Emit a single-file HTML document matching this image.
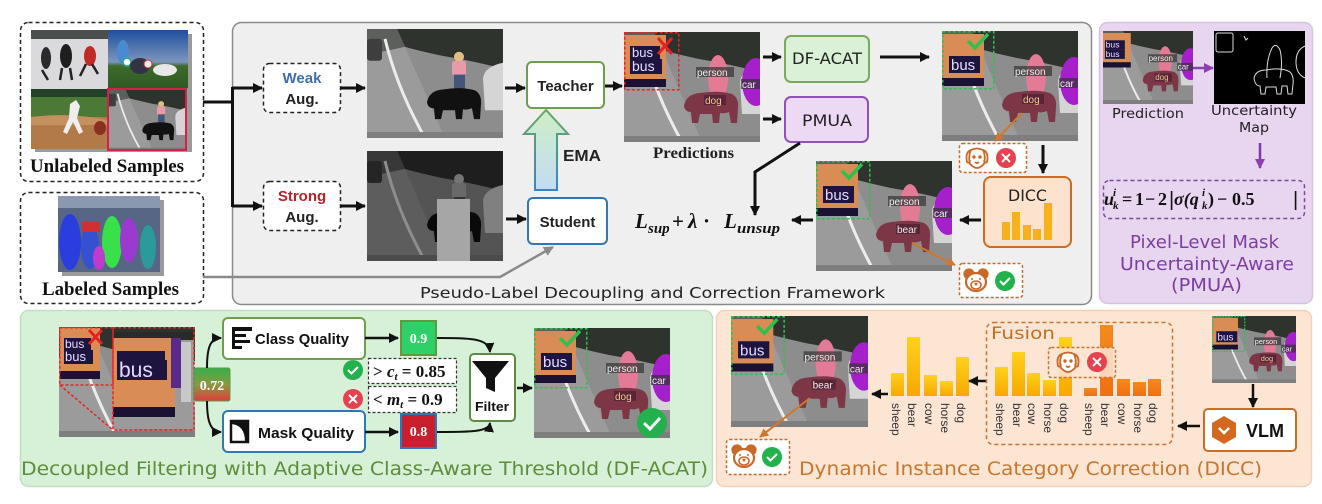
<!DOCTYPE html>
<html><head><meta charset="utf-8"><style>
html,body{margin:0;padding:0;background:#fff;}
svg{display:block;}
.s{font-family:"Liberation Sans",sans-serif;}
.sb{font-family:"Liberation Sans",sans-serif;font-weight:bold;}
.sf{font-family:"Liberation Serif",serif;font-weight:bold;}
.si{font-family:"Liberation Serif",serif;font-weight:bold;font-style:italic;}
.c{font-family:"DejaVu Sans","Liberation Sans",sans-serif;}
</style></head><body>
<svg width="1322" height="504" viewBox="0 0 1322 504" xmlns="http://www.w3.org/2000/svg" xmlns:xlink="http://www.w3.org/1999/xlink">
<defs>
<marker id="ak" viewBox="0 0 10 10" refX="9" refY="5" markerWidth="10" markerHeight="10" markerUnits="userSpaceOnUse" orient="auto"><path d="M0,0L10,5L0,10z" fill="#111"/></marker>
<marker id="ag" viewBox="0 0 10 10" refX="9" refY="5" markerWidth="10" markerHeight="10" markerUnits="userSpaceOnUse" orient="auto"><path d="M0,0L10,5L0,10z" fill="#8a8a8a"/></marker>
<marker id="ao" viewBox="0 0 10 10" refX="9" refY="5" markerWidth="9" markerHeight="9" markerUnits="userSpaceOnUse" orient="auto"><path d="M0,0L10,5L0,10z" fill="#d0772c"/></marker>
<marker id="ap" viewBox="0 0 10 10" refX="9" refY="5" markerWidth="10" markerHeight="10" markerUnits="userSpaceOnUse" orient="auto"><path d="M0,0L10,5L0,10z" fill="#8b3fb0"/></marker>
<filter id="gs"><feColorMatrix type="saturate" values="0"/></filter>
<linearGradient id="sky" x1="0" y1="0" x2="0" y2="1"><stop offset="0" stop-color="#1f4f9e"/><stop offset=".55" stop-color="#7d95bb"/><stop offset=".62" stop-color="#3e6a2c"/><stop offset="1" stop-color="#2f5a22"/></linearGradient>
<linearGradient id="ema" x1="0" y1="0" x2="0" y2="1"><stop offset="0" stop-color="#cdeec8"/><stop offset="1" stop-color="#c4dcf2"/></linearGradient>
<linearGradient id="emas" x1="0" y1="0" x2="0" y2="1"><stop offset="0" stop-color="#6aa85a"/><stop offset="1" stop-color="#3a85c8"/></linearGradient>
<linearGradient id="g72" x1="0" y1="0" x2="0" y2="1"><stop offset="0" stop-color="#36b04c"/><stop offset=".5" stop-color="#8a9a40"/><stop offset="1" stop-color="#e23a3a"/></linearGradient>
<linearGradient id="yb" x1="0" y1="0" x2="0" y2="1"><stop offset="0" stop-color="#ffd21c"/><stop offset="1" stop-color="#f7a800"/></linearGradient>
<linearGradient id="ob" x1="0" y1="0" x2="0" y2="1"><stop offset="0" stop-color="#f58a1e"/><stop offset="1" stop-color="#f07010"/></linearGradient>
<path id="bear" d="M60,74Q62,62 76,61Q95,58 108,62Q115,66 114,76L113,91H107L105,80Q100,82 96,81L95,91H89L88,82H76L74,91H68L67,80Q61,80 60,74Z"/>
<g id="road">
<rect width="136" height="110" fill="#8d8d8d"/>
<path d="M0,0H136V40Q105,32 75,27Q52,22 38,18L30,0Z" fill="#2e332e"/>
<path d="M0,0H30L38,18Q20,22 0,26Z" fill="#5d5f5d"/>
<path d="M0,26Q20,22 38,18L78,110H0Z" fill="#9b9b9b"/>
<path d="M18,10Q30,60 58,110" stroke="#ececec" stroke-width="3" fill="none"/>
<rect x="0" y="10" width="15" height="22" rx="3" fill="#3e3e3e"/>
<path d="M116,50Q117,38 136,34V82H118Z" fill="#d5d5d5"/>
<rect x="0" y="104" width="136" height="6" fill="#7e7e7e"/>
</g>
<g id="pred">
<rect x="0" y="3" width="42" height="50" fill="#d98d55"/>
<rect x="0" y="47" width="42" height="8" fill="#1b1233"/>
<ellipse cx="94" cy="46" rx="10" ry="23" fill="#e37b97"/>
<ellipse cx="132" cy="50" rx="14" ry="24" fill="#a51fca"/>
<use xlink:href="#bear" href="#bear" fill="#7d3646"/>
</g>
<g id="woman">
<circle cx="92" cy="28" r="5" fill="#e0c080"/>
<rect x="85" y="32" width="14" height="15" rx="3" fill="#e79aa8"/>
<rect x="87" y="46" width="11" height="16" fill="#44557a"/>
</g>
<g id="dogI" fill="none" stroke="#c8692a" stroke-width="1.8">
<path d="M-6,-8Q0,-11 6,-8Q9,-2 7,6Q3,10 0,10Q-3,10 -7,6Q-9,-2 -6,-8Z" fill="#fff"/>
<path d="M-6,-8Q-12,-6 -10,4Q-8,6 -7,2"/>
<path d="M6,-8Q12,-6 10,4Q8,6 7,2"/>
<circle cx="-3" cy="-1" r=".8" fill="#c8692a"/>
<circle cx="3" cy="-1" r=".8" fill="#c8692a"/>
<path d="M-2,4Q0,6 2,4"/>
</g>
<g id="bearI" stroke="#c8692a" stroke-width="2.2">
<circle cx="-7" cy="-7" r="4.5" fill="#c8692a"/>
<circle cx="7" cy="-7" r="4.5" fill="#c8692a"/>
<ellipse cx="0" cy="1" rx="10" ry="9" fill="#fff"/>
<ellipse cx="0" cy="4" rx="5" ry="4" fill="#fff" stroke-width="1.6"/>
<circle cx="-4" cy="-2" r="1" fill="#c8692a" stroke="none"/>
<circle cx="4" cy="-2" r="1" fill="#c8692a" stroke="none"/>
<circle cx="0" cy="3" r="1.5" fill="#c8692a" stroke="none"/>
</g>
<g id="chk"><circle r="10" fill="#22b14c"/><path d="M-5,0L-1.5,3.5L5,-3" stroke="#fff" stroke-width="2" fill="none"/></g>
<g id="xr"><circle r="10" fill="#e6414f"/><path d="M-4,-4L4,4M4,-4L-4,4" stroke="#fff" stroke-width="2"/></g>
</defs>

<!-- Unlabeled samples -->
<rect x="20.5" y="22.5" width="183" height="159" rx="8" fill="#fff" stroke="#222" stroke-width="1.5" stroke-dasharray="4,3"/>
<rect x="35" y="34" width="157" height="118" fill="#9a9a9a"/>
<rect x="31" y="30" width="77" height="59" fill="#dadadd"/>
<rect x="31" y="30" width="77" height="9" fill="#4b504e"/>
<ellipse cx="46" cy="58" rx="5" ry="11" fill="#2a2a2a"/>
<ellipse cx="66" cy="56" rx="6" ry="12" fill="#1e1e1e"/>
<ellipse cx="90" cy="56" rx="6" ry="10" fill="#c02b25"/>
<path d="M42,70L48,80M62,68L60,80M70,68L72,80M86,64L80,76M92,64L98,74" stroke="#222" stroke-width="2.5"/>
<rect x="108" y="30" width="80" height="58" fill="url(#sky)"/>
<ellipse cx="123" cy="52" rx="6" ry="12" fill="#4a8ad0"/>
<circle cx="127" cy="62" r="4" fill="#fff" stroke="#2a8" stroke-width="1.5"/>
<ellipse cx="140" cy="66" rx="10" ry="8" fill="#334"/>
<circle cx="148" cy="64" r="4" fill="#e9e9e9" stroke="#c33"/>
<ellipse cx="165" cy="70" rx="12" ry="6" fill="#e8e8e8"/>
<rect x="31" y="89" width="76" height="60" fill="#b27a48"/>
<rect x="31" y="89" width="76" height="8" fill="#23402a"/>
<rect x="31" y="97" width="76" height="20" fill="#4c7a36"/>
<path d="M31,117Q70,112 107,120V125H31Z" fill="#c49060"/>
<path d="M70,104l6,-4l4,6l-3,12l6,14l-4,2l-6,-12l-6,12l-4,-2l6,-14z" fill="#eee"/>
<ellipse cx="100" cy="128" rx="6" ry="7" fill="#8a3020"/>
<svg x="107" y="88" width="80" height="63" viewBox="0 0 136 110" preserveAspectRatio="none"><use href="#road"/><use href="#woman"/><use href="#bear" fill="#111"/></svg>
<rect x="108" y="89" width="78" height="61" fill="none" stroke="#d6204a" stroke-width="2"/>
<text x="30" y="172" class="sf" font-size="19" textLength="154" lengthAdjust="spacingAndGlyphs" fill="#111">Unlabeled Samples</text>

<!-- Labeled samples -->
<rect x="20.5" y="192.5" width="183" height="111" rx="8" fill="#fff" stroke="#222" stroke-width="1.5" stroke-dasharray="4,3"/>
<rect x="62" y="200" width="102" height="76" fill="#9a9a9a"/>
<rect x="58" y="196" width="102" height="76" fill="#566684"/>
<rect x="58" y="196" width="102" height="12" fill="#8a98b0"/>
<ellipse cx="70" cy="242" rx="11" ry="28" fill="#2a3ee0"/>
<ellipse cx="90" cy="247" rx="9" ry="22" fill="#3550d0"/>
<ellipse cx="112" cy="242" rx="10" ry="26" fill="#38e04a"/>
<ellipse cx="129" cy="240" rx="9" ry="22" fill="#9a3ad0"/>
<ellipse cx="148" cy="247" rx="8" ry="22" fill="#2a9a9a"/>
<rect x="82" y="222" width="18" height="10" fill="#d03030"/>
<ellipse cx="99" cy="258" rx="6" ry="12" fill="#c03ad0"/>
<text x="42" y="295" class="sf" font-size="19" textLength="137" lengthAdjust="spacingAndGlyphs" fill="#111">Labeled Samples</text>

<!-- Main panel -->
<rect x="232.5" y="22.5" width="859" height="282" rx="9" fill="#efefef" stroke="#8a8a8a" stroke-width="1.5"/>
<path d="M203,102H232" stroke="#111" stroke-width="3"/>
<path d="M232.5,87V207" stroke="#111" stroke-width="3"/>
<path d="M232,88H262" stroke="#111" stroke-width="3" marker-end="url(#ak)"/>
<path d="M232,206H262" stroke="#111" stroke-width="3" marker-end="url(#ak)"/>
<path d="M203,277H500L553,247" stroke="#8a8a8a" stroke-width="2.5" fill="none" marker-end="url(#ag)"/>

<rect x="263.5" y="63.5" width="77" height="49" rx="6" fill="#fff" stroke="#222" stroke-width="1.5" stroke-dasharray="4,3"/>
<text x="302" y="83" text-anchor="middle" class="sb" font-size="15" fill="#3d6fae">Weak</text>
<text x="302" y="104" text-anchor="middle" class="sb" font-size="15" fill="#222">Aug.</text>
<rect x="263.5" y="181.5" width="77" height="49" rx="6" fill="#fff" stroke="#222" stroke-width="1.5" stroke-dasharray="4,3"/>
<text x="302" y="201" text-anchor="middle" class="sb" font-size="15" fill="#b8232a">Strong</text>
<text x="302" y="222" text-anchor="middle" class="sb" font-size="15" fill="#222">Aug.</text>
<path d="M340,88H365" stroke="#111" stroke-width="3" marker-end="url(#ak)"/>
<path d="M340,206H365" stroke="#111" stroke-width="3" marker-end="url(#ak)"/>

<svg x="367" y="29" width="136" height="109" viewBox="0 0 136 110" preserveAspectRatio="none"><use href="#road"/><use href="#woman"/><use href="#bear" fill="#111"/></svg>
<svg x="367" y="151" width="136" height="110" viewBox="0 0 136 110" preserveAspectRatio="none"><g filter="url(#gs)"><use href="#road"/><use href="#woman"/><use href="#bear" fill="#111"/></g><rect width="136" height="110" fill="#000" opacity=".4"/><rect x="70" y="48" width="33" height="62" fill="#a6a6a6"/></svg>

<path d="M505,88H525" stroke="#111" stroke-width="3" marker-end="url(#ak)"/>
<path d="M506,219H526" stroke="#111" stroke-width="3" marker-end="url(#ak)"/>
<rect x="527" y="62" width="77" height="46" rx="5" fill="#fff" stroke="#6f9e4f" stroke-width="2"/>
<text x="565.5" y="91" text-anchor="middle" class="sb" font-size="15" fill="#222">Teacher</text>
<rect x="528" y="198" width="79" height="46" rx="5" fill="#fff" stroke="#2e78b8" stroke-width="2"/>
<text x="567.5" y="227" text-anchor="middle" class="sb" font-size="15" fill="#222">Student</text>
<polygon points="546,110 524,134 535,134 535,190 557,190 557,134 568,134" fill="url(#ema)" stroke="url(#emas)" stroke-width="2"/>
<text x="563" y="161" class="sb" font-size="16" textLength="38" lengthAdjust="spacingAndGlyphs" fill="#222">EMA</text>

<path d="M605,86H622" stroke="#111" stroke-width="3" marker-end="url(#ak)"/>
<svg x="624" y="32" width="136" height="110" viewBox="0 0 136 110" preserveAspectRatio="none">
<use href="#road"/><use href="#pred"/>
<rect x="6" y="14" width="30" height="13" fill="#1d1540"/><text x="8" y="25" class="s" font-size="13" fill="#e6dcff">bus</text>
<rect x="6" y="27" width="32" height="15" fill="#1d1540"/><text x="8" y="39" class="s" font-size="14" fill="#e6dcff">bus</text>
<rect x="72" y="35" width="38" height="10" fill="#333" opacity=".7"/><text x="73" y="44" class="s" font-size="10" fill="#eee">person</text>
<rect x="117" y="47" width="19" height="10" fill="#333" opacity=".7"/><text x="118" y="56" class="s" font-size="10" fill="#eee">car</text>
<rect x="80" y="63" width="22" height="10" fill="#4a2030" opacity=".7"/><text x="81" y="72" class="s" font-size="10" fill="#f0c890">dog</text>
<rect x=".75" y=".75" width="54" height="57" fill="none" stroke="#e22" stroke-width="1.5" stroke-dasharray="3,2"/>
<path d="M34,6L48,22M48,6L34,22" stroke="#e82020" stroke-width="3"/>
</svg>
<text x="653" y="158" class="sf" font-size="16" textLength="81" lengthAdjust="spacingAndGlyphs" fill="#222">Predictions</text>

<path d="M763,57H781" stroke="#111" stroke-width="3" marker-end="url(#ak)"/>
<path d="M763,119H781" stroke="#111" stroke-width="3" marker-end="url(#ak)"/>
<rect x="785" y="36" width="84" height="46" rx="6" fill="#daf1d8" stroke="#7aa85c" stroke-width="2"/>
<text x="792" y="64" class="c" font-size="16" textLength="70" lengthAdjust="spacingAndGlyphs" fill="#222">DF-ACAT</text>
<rect x="785" y="97" width="83" height="45" rx="6" fill="#ecd9f4" stroke="#8f52b8" stroke-width="2"/>
<text x="802" y="126" class="c" font-size="16" textLength="50" lengthAdjust="spacingAndGlyphs" fill="#222">PMUA</text>
<path d="M880,57H929" stroke="#111" stroke-width="3" marker-end="url(#ak)"/>

<svg x="942" y="31" width="136" height="110" viewBox="0 0 136 110" preserveAspectRatio="none">
<use href="#road"/><use href="#pred"/>
<rect x="7" y="25" width="31" height="17" fill="#1d1540"/><text x="9" y="39" class="s" font-size="15" fill="#e6dcff">bus</text>
<rect x="72" y="35" width="38" height="10" fill="#333" opacity=".7"/><text x="73" y="44" class="s" font-size="10" fill="#eee">person</text>
<rect x="117" y="47" width="19" height="10" fill="#333" opacity=".7"/><text x="118" y="56" class="s" font-size="10" fill="#eee">car</text>
<rect x="80" y="63" width="22" height="10" fill="#4a2030" opacity=".7"/><text x="81" y="72" class="s" font-size="10" fill="#f0c890">dog</text>
<rect x=".75" y=".75" width="51" height="57" fill="none" stroke="#2fbf4f" stroke-width="1.5" stroke-dasharray="3,2"/>
<path d="M26,10L33,17L46,3" stroke="#2fbf4f" stroke-width="3.5" fill="none"/>
</svg>
<rect x="959.5" y="143.5" width="67" height="29" rx="3" fill="#fff" stroke="#c8692a" stroke-width="1.5" stroke-dasharray="3,2"/>
<use href="#dogI" x="977" y="158"/>
<use href="#xr" x="1006" y="158"/>
<path d="M1022,113L995,141" stroke="#d0772c" stroke-width="2" marker-end="url(#ao)"/>
<path d="M1043,145V173" stroke="#111" stroke-width="3" marker-end="url(#ak)"/>

<rect x="984" y="177" width="87" height="70" rx="7" fill="#fde3cd" stroke="#cb6c25" stroke-width="2"/>
<text x="1008" y="201" class="c" font-size="16" textLength="39" lengthAdjust="spacingAndGlyphs" fill="#222">DICC</text>
<rect x="1002" y="222" width="8" height="18" fill="#f7b21a"/>
<rect x="1012" y="212" width="8" height="28" fill="#f7b21a"/>
<rect x="1023" y="225" width="8" height="15" fill="#f7b21a"/>
<rect x="1033" y="229" width="8" height="11" fill="#f7b21a"/>
<rect x="1044" y="203" width="8" height="37" fill="#f7b21a"/>
<path d="M981,220H960" stroke="#111" stroke-width="3" marker-end="url(#ak)"/>

<svg x="816" y="161" width="136" height="110" viewBox="0 0 136 110" preserveAspectRatio="none">
<use href="#road"/><use href="#pred"/>
<rect x="7" y="25" width="31" height="17" fill="#1d1540"/><text x="9" y="39" class="s" font-size="15" fill="#e6dcff">bus</text>
<rect x="72" y="35" width="38" height="10" fill="#333" opacity=".7"/><text x="73" y="44" class="s" font-size="10" fill="#eee">person</text>
<rect x="117" y="47" width="19" height="10" fill="#333" opacity=".7"/><text x="118" y="56" class="s" font-size="10" fill="#eee">car</text>
<rect x="80" y="63" width="24" height="10" fill="#4a2030" opacity=".7"/><text x="81" y="72" class="s" font-size="10" fill="#f4eaea">bear</text>
<rect x=".75" y=".75" width="53" height="57" fill="none" stroke="#2fbf4f" stroke-width="1.5" stroke-dasharray="3,2"/>
<path d="M26,10L33,17L46,3" stroke="#2fbf4f" stroke-width="3.5" fill="none"/>
</svg>
<path d="M912,243L955,265" stroke="#d0772c" stroke-width="2" marker-end="url(#ao)"/>
<rect x="959.5" y="263.5" width="63" height="34" rx="3" fill="#fff" stroke="#c8692a" stroke-width="1.5" stroke-dasharray="3,2"/>
<use href="#bearI" x="976" y="281"/>
<use href="#chk" x="1005" y="281"/>
<path d="M813,220H792" stroke="#111" stroke-width="3" marker-end="url(#ak)"/>

<text x="635" y="228" class="si" font-size="21" fill="#111">L</text>
<text x="648" y="233" class="si" font-size="15" fill="#111">sup</text>
<text x="672" y="228" class="sf" font-size="21" fill="#111">+</text>
<text x="688" y="228" class="si" font-size="21" fill="#111">λ</text>
<text x="703" y="228" class="sf" font-size="21" fill="#111">·</text>
<text x="724" y="228" class="si" font-size="21" fill="#111">L</text>
<text x="737" y="233" class="si" font-size="15" textLength="43" lengthAdjust="spacingAndGlyphs" fill="#111">unsup</text>
<path d="M800,143L755,172V215" stroke="#111" stroke-width="3" fill="none" marker-end="url(#ak)"/>
<text x="420" y="298" class="c" font-size="15" textLength="465" lengthAdjust="spacingAndGlyphs" fill="#222">Pseudo-Label Decoupling and Correction Framework</text>

<!-- PMUA panel -->
<rect x="1099.5" y="22.5" width="213" height="281" rx="8" fill="#e8d5ef" stroke="#d8c2e2" stroke-width="1.5"/>
<svg x="1103" y="31" width="90" height="73" viewBox="0 0 136 110" preserveAspectRatio="none">
<use href="#road"/><use href="#pred"/>
<rect x="3" y="14" width="30" height="14" fill="#1d1540"/><text x="4" y="25" class="s" font-size="13" fill="#e6dcff">bus</text>
<rect x="3" y="28" width="30" height="14" fill="#1d1540"/><text x="4" y="39" class="s" font-size="13" fill="#e6dcff">bus</text>
<rect x="68" y="35" width="44" height="12" fill="#333" opacity=".7"/><text x="69" y="45" class="s" font-size="12" fill="#eee">person</text>
<rect x="112" y="48" width="24" height="12" fill="#333" opacity=".7"/><text x="113" y="58" class="s" font-size="12" fill="#eee">car</text>
<rect x="78" y="64" width="26" height="12" fill="#4a2030" opacity=".7"/><text x="79" y="74" class="s" font-size="12" fill="#f0c890">dog</text>
</svg>
<rect x="1214" y="31" width="91" height="73" fill="#000"/>
<g fill="none" stroke="#ddd" stroke-width="1">
<rect x="1216" y="33" width="17" height="19" rx="2"/>
<path d="M1244,36l2,4l2,-2"/>
<path d="M1267,78Q1266,60 1272,48Q1276,42 1280,50Q1283,62 1280,78"/>
<path d="M1254,78Q1256,70 1266,70Q1282,67 1290,72Q1294,76 1293,84L1292,94H1288L1287,86H1282L1281,94H1277L1276,87H1266L1265,94H1261L1260,86Q1255,86 1254,78Z"/>
<path d="M1305,46Q1296,50 1296,62Q1296,74 1305,78"/>
</g>
<path d="M1193,68H1213" stroke="#8b3fb0" stroke-width="2.5" marker-end="url(#ap)"/>
<text x="1112" y="118" class="c" font-size="13" textLength="72" lengthAdjust="spacingAndGlyphs" fill="#222">Prediction</text>
<text x="1211" y="115" class="c" font-size="13" textLength="86" lengthAdjust="spacingAndGlyphs" fill="#222">Uncertainty</text>
<text x="1239" y="132" class="c" font-size="13" textLength="30" lengthAdjust="spacingAndGlyphs" fill="#222">Map</text>
<path d="M1260,143V168" stroke="#7c3aa8" stroke-width="2.5" marker-end="url(#ap)"/>
<rect x="1103.5" y="180.5" width="201" height="38" rx="6" fill="none" stroke="#7a4aa0" stroke-width="1.5" stroke-dasharray="4,3"/>
<text x="1104" y="205" class="si" font-size="18" fill="#111">u</text>
<text x="1113" y="196" class="si" font-size="11" fill="#111">i</text>
<text x="1113" y="209" class="si" font-size="11" fill="#111">k</text>
<text x="1122" y="205" class="sf" font-size="18" fill="#111">=</text>
<text x="1135" y="205" class="sf" font-size="18" fill="#111">1</text>
<text x="1145" y="205" class="sf" font-size="18" fill="#111">−</text>
<text x="1158" y="205" class="sf" font-size="18" fill="#111">2</text>
<text x="1169" y="206" class="s" font-size="20" fill="#111">|</text>
<text x="1174" y="205" class="si" font-size="18" fill="#111">σ(q</text>
<text x="1202" y="196" class="si" font-size="11" fill="#111">i</text>
<text x="1202" y="209" class="si" font-size="11" fill="#111">k</text>
<text x="1208" y="205" class="sf" font-size="18" fill="#111">)</text>
<text x="1217" y="205" class="sf" font-size="18" fill="#111">−</text>
<text x="1232" y="205" class="sf" font-size="18" fill="#111">0.5</text>
<text x="1293" y="206" class="s" font-size="20" fill="#111">|</text>
<text x="1130" y="248" class="c" font-size="18" textLength="149" lengthAdjust="spacingAndGlyphs" fill="#7a3fa0">Pixel-Level Mask</text>
<text x="1120" y="270" class="c" font-size="18" textLength="174" lengthAdjust="spacingAndGlyphs" fill="#7a3fa0">Uncertainty-Aware</text>
<text x="1171" y="291" class="c" font-size="18" textLength="71" lengthAdjust="spacingAndGlyphs" fill="#7a3fa0">(PMUA)</text>

<!-- DF-ACAT panel -->
<rect x="20.5" y="310.5" width="692" height="176" rx="8" fill="#d7f0d8" stroke="#c0dfc0" stroke-width="1.5"/>
<svg x="59" y="327" width="136" height="112" viewBox="0 0 136 112" preserveAspectRatio="none">
<use href="#road"/>
<rect x="1" y="1" width="40" height="47" fill="#d98d55"/>
<rect x="1" y="44" width="40" height="8" fill="#1b1233"/>
<rect x="5" y="11" width="27" height="12" fill="#1d1540"/><text x="6" y="21" class="s" font-size="12" fill="#e6dcff">bus</text>
<rect x="5" y="23" width="29" height="14" fill="#1d1540"/><text x="6" y="34" class="s" font-size="13" fill="#e6dcff">bus</text>
<path d="M30,3L43,17M43,3L30,17" stroke="#e82020" stroke-width="3"/>
<rect x="54" y="5" width="81" height="97" fill="#9b9b9b"/>
<rect x="54" y="5" width="81" height="8" fill="#2a2a2a"/>
<rect x="54" y="11" width="62" height="75" fill="#d98d55"/>
<rect x="112" y="11" width="10" height="50" fill="#5a2a8a"/>
<rect x="54" y="80" width="62" height="10" fill="#1b1233"/>
<rect x="58" y="24" width="48" height="12" fill="#1d1540"/>
<rect x="58" y="33" width="50" height="20" fill="#1d1540"/><text x="60" y="50" class="s" font-size="21" fill="#e6dcff">bus</text>
<rect x="122" y="15" width="10" height="60" fill="#c8c8c8"/>
<path d="M.75,.75H54V58H.75Z M.75,58L54,103 M54,.75H135V103H54V.75" fill="none" stroke="#e22" stroke-width="1.5" stroke-dasharray="3,2"/>
</svg>
<rect x="194" y="368" width="36" height="33" rx="2" fill="url(#g72)" stroke="#5a9a4a" stroke-width="1"/>
<text x="212" y="390" text-anchor="middle" class="sf" font-size="14" fill="#fff">0.72</text>
<path d="M207,368C207,348 210,338 221,338" stroke="#111" stroke-width="2" fill="none" marker-end="url(#ak)"/>
<path d="M207,401C207,420 210,432 221,432" stroke="#111" stroke-width="2" fill="none" marker-end="url(#ak)"/>

<rect x="223" y="318" width="142" height="41" rx="5" fill="#fff" stroke="#6f9e4f" stroke-width="2"/>
<rect x="232" y="327" width="3" height="22" fill="#111"/>
<rect x="232" y="327" width="20" height="4" fill="#111"/>
<rect x="232" y="334" width="14" height="3" fill="#111"/>
<rect x="232" y="340" width="18" height="3" fill="#111"/>
<rect x="232" y="346" width="10" height="3" fill="#111"/>
<text x="255" y="344" class="sb" font-size="15" textLength="94" lengthAdjust="spacingAndGlyphs" fill="#111">Class Quality</text>
<rect x="223" y="411" width="142" height="41" rx="5" fill="#fff" stroke="#2e78b8" stroke-width="2"/>
<rect x="231" y="421" width="17" height="21" fill="#fff" stroke="#111" stroke-width="2.5"/>
<path d="M231,421H248V442H245Q245,425 231,424Z" fill="#111"/>
<text x="258" y="438" class="sb" font-size="15" textLength="96" lengthAdjust="spacingAndGlyphs" fill="#111">Mask Quality</text>
<path d="M365,338H398" stroke="#111" stroke-width="2.5" marker-end="url(#ak)"/>
<path d="M365,432H398" stroke="#111" stroke-width="2.5" marker-end="url(#ak)"/>
<rect x="401" y="321" width="35" height="34" fill="#2fcf6a" stroke="#5e9a3e" stroke-width="2"/>
<text x="418.5" y="343" text-anchor="middle" class="sf" font-size="14" fill="#fff">0.9</text>
<rect x="401" y="414" width="35" height="34" fill="#c8202e" stroke="#2e78b8" stroke-width="2"/>
<text x="418.5" y="436" text-anchor="middle" class="sf" font-size="14" fill="#fff">0.8</text>
<use href="#chk" x="353" y="370"/>
<use href="#xr" x="353" y="399"/>
<rect x="368.5" y="358.5" width="88" height="25" fill="#fff" stroke="#333" stroke-width="1.2" stroke-dasharray="3,2"/>
<rect x="368.5" y="386.5" width="88" height="26" fill="#fff" stroke="#333" stroke-width="1.2" stroke-dasharray="3,2"/>
<text x="373" y="377" class="sf" font-size="17" fill="#111">&gt; <tspan class="si">c</tspan><tspan class="si" font-size="11" dy="3">t</tspan><tspan dy="-3"> = 0.85</tspan></text>
<text x="373" y="405" class="sf" font-size="17" fill="#111">&lt; <tspan class="si">m</tspan><tspan class="si" font-size="11" dy="3">t</tspan><tspan dy="-3"> = 0.9</tspan></text>
<path d="M437,338C470,338 489,338 490,352" stroke="#111" stroke-width="2" fill="none" marker-end="url(#ak)"/>
<path d="M437,432C470,432 489,432 490,423" stroke="#111" stroke-width="2" fill="none" marker-end="url(#ak)"/>
<rect x="470" y="354" width="45" height="67" rx="4" fill="#fff" stroke="#5f8a45" stroke-width="2"/>
<polygon points="472,361 509,361 495,378 495,392 486,388 486,378" fill="#111"/>
<text x="475" y="411" class="sb" font-size="13" textLength="34" lengthAdjust="spacingAndGlyphs" fill="#111">Filter</text>
<path d="M517,388H532" stroke="#111" stroke-width="2.5" marker-end="url(#ak)"/>
<svg x="534" y="328" width="136" height="110" viewBox="0 0 136 110" preserveAspectRatio="none">
<use href="#road"/><use href="#pred"/>
<rect x="7" y="25" width="31" height="17" fill="#1d1540"/><text x="9" y="39" class="s" font-size="15" fill="#e6dcff">bus</text>
<rect x="72" y="35" width="38" height="10" fill="#333" opacity=".7"/><text x="73" y="44" class="s" font-size="10" fill="#eee">person</text>
<rect x="117" y="47" width="19" height="10" fill="#333" opacity=".7"/><text x="118" y="56" class="s" font-size="10" fill="#eee">car</text>
<rect x="80" y="63" width="22" height="10" fill="#4a2030" opacity=".7"/><text x="81" y="72" class="s" font-size="10" fill="#f0c890">dog</text>
<rect x=".75" y=".75" width="52" height="59" fill="none" stroke="#2fbf4f" stroke-width="1.5" stroke-dasharray="3,2"/>
<path d="M26,10L33,17L46,3" stroke="#2fbf4f" stroke-width="3.5" fill="none"/>
</svg>
<circle cx="652" cy="423" r="15" fill="#22b14c"/>
<path d="M644,423L650,429L660,418" stroke="#fff" stroke-width="3" fill="none"/>
<text x="21" y="475" class="c" font-size="19" textLength="687" lengthAdjust="spacingAndGlyphs" fill="#5d8e3c">Decoupled Filtering with Adaptive Class-Aware Threshold (DF-ACAT)</text>

<!-- DICC panel -->
<rect x="716.5" y="310.5" width="595" height="176" rx="8" fill="#fde5d4" stroke="#f3d0b8" stroke-width="1.5"/>
<svg x="731" y="316" width="137" height="111" viewBox="0 0 136 110" preserveAspectRatio="none">
<use href="#road"/><use href="#pred"/>
<rect x="7" y="25" width="31" height="17" fill="#1d1540"/><text x="9" y="39" class="s" font-size="15" fill="#e6dcff">bus</text>
<rect x="72" y="35" width="38" height="10" fill="#333" opacity=".7"/><text x="73" y="44" class="s" font-size="10" fill="#eee">person</text>
<rect x="117" y="47" width="19" height="10" fill="#333" opacity=".7"/><text x="118" y="56" class="s" font-size="10" fill="#eee">car</text>
<rect x="80" y="63" width="24" height="10" fill="#4a2030" opacity=".7"/><text x="81" y="72" class="s" font-size="10" fill="#f4eaea">bear</text>
<rect x=".75" y=".75" width="52" height="57" fill="none" stroke="#2fbf4f" stroke-width="1.5" stroke-dasharray="3,2"/>
<path d="M26,10L33,17L46,3" stroke="#2fbf4f" stroke-width="3.5" fill="none"/>
</svg>
<path d="M810,398L760,437" stroke="#d0772c" stroke-width="2" marker-end="url(#ao)"/>
<rect x="726.5" y="439.5" width="63" height="35" rx="3" fill="#fff" stroke="#c8692a" stroke-width="1.5" stroke-dasharray="3,2"/>
<use href="#bearI" x="744" y="457"/>
<use href="#chk" x="772" y="457"/>
<path d="M888,394H872" stroke="#111" stroke-width="2.5" marker-end="url(#ak)"/>
<g fill="url(#yb)">
<rect x="891" y="373" width="13" height="23"/>
<rect x="907" y="337" width="13" height="59"/>
<rect x="924" y="375" width="13" height="21"/>
<rect x="940" y="381" width="13" height="15"/>
<rect x="956" y="357" width="13" height="39"/>
</g>
<g class="s" font-size="12" fill="#333">
<text transform="translate(892,403) rotate(90)">sheep</text>
<text transform="translate(908,403) rotate(90)">bear</text>
<text transform="translate(925,403) rotate(90)">cow</text>
<text transform="translate(941,403) rotate(90)">horse</text>
<text transform="translate(957,403) rotate(90)">dog</text>
</g>
<path d="M987,381H969" stroke="#111" stroke-width="2.5" marker-end="url(#ak)"/>
<rect x="986.5" y="322.5" width="186" height="122" rx="7" fill="none" stroke="#c8742e" stroke-width="1.5" stroke-dasharray="4,3"/>
<text x="991" y="339" class="c" font-size="17" textLength="64" lengthAdjust="spacingAndGlyphs" fill="#c46e22">Fusion</text>
<g fill="url(#yb)">
<rect x="995" y="367" width="13" height="29"/>
<rect x="1012" y="352" width="13" height="44"/>
<rect x="1027" y="373" width="13" height="23"/>
<rect x="1043" y="380" width="13" height="16"/>
<rect x="1059" y="337" width="13" height="59"/>
</g>
<g fill="url(#ob)">
<rect x="1084" y="388" width="13" height="8"/>
<rect x="1100" y="325" width="13" height="71"/>
<rect x="1117" y="379" width="13" height="17"/>
<rect x="1133" y="382" width="13" height="14"/>
<rect x="1148" y="379" width="13" height="17"/>
</g>
<g class="s" font-size="12" fill="#333">
<text transform="translate(996,403) rotate(90)">sheep</text>
<text transform="translate(1013,403) rotate(90)">bear</text>
<text transform="translate(1028,403) rotate(90)">cow</text>
<text transform="translate(1044,403) rotate(90)">horse</text>
<text transform="translate(1060,403) rotate(90)">dog</text>
<text transform="translate(1085,403) rotate(90)">sheep</text>
<text transform="translate(1101,403) rotate(90)">bear</text>
<text transform="translate(1118,403) rotate(90)">cow</text>
<text transform="translate(1134,403) rotate(90)">horse</text>
<text transform="translate(1149,403) rotate(90)">dog</text>
</g>
<rect x="1048.5" y="347.5" width="67" height="30" rx="3" fill="#fde5d4" fill-opacity=".85" stroke="#c8742e" stroke-width="1.5" stroke-dasharray="3,2"/>
<use href="#dogI" x="1068" y="362"/>
<use href="#xr" x="1097" y="362"/>
<svg x="1212" y="316" width="84" height="67" viewBox="0 0 136 110" preserveAspectRatio="none">
<use href="#road"/><use href="#pred"/>
<rect x="7" y="25" width="34" height="18" fill="#1d1540"/><text x="9" y="40" class="s" font-size="16" fill="#e6dcff">bus</text>
<rect x="68" y="35" width="44" height="13" fill="#333" opacity=".7"/><text x="69" y="46" class="s" font-size="12" fill="#eee">person</text>
<rect x="112" y="47" width="24" height="13" fill="#333" opacity=".7"/><text x="113" y="58" class="s" font-size="12" fill="#eee">car</text>
<rect x="78" y="63" width="26" height="13" fill="#4a2030" opacity=".7"/><text x="79" y="74" class="s" font-size="12" fill="#f0c890">dog</text>
<rect x="1" y="1" width="52" height="57" fill="none" stroke="#2fbf4f" stroke-width="2" stroke-dasharray="3,2"/>
</svg>
<path d="M1253,384V407" stroke="#111" stroke-width="2.5" marker-end="url(#ak)"/>
<rect x="1204" y="409" width="92" height="42" rx="4" fill="#fff" stroke="#cc6d24" stroke-width="2"/>
<polygon points="1224,416 1236,423 1236,437 1224,444 1212,437 1212,423" fill="#d2691e"/>
<path d="M1219,428L1224,433L1229,428" stroke="#fff" stroke-width="2.5" fill="none"/>
<text x="1246" y="437" class="sb" font-size="18" textLength="38" lengthAdjust="spacingAndGlyphs" fill="#111">VLM</text>
<path d="M1200,426H1178" stroke="#111" stroke-width="2.5" marker-end="url(#ak)"/>
<text x="799" y="475" class="c" font-size="19" textLength="463" lengthAdjust="spacingAndGlyphs" fill="#c8772f">Dynamic Instance Category Correction (DICC)</text>
</svg>
</body></html>
